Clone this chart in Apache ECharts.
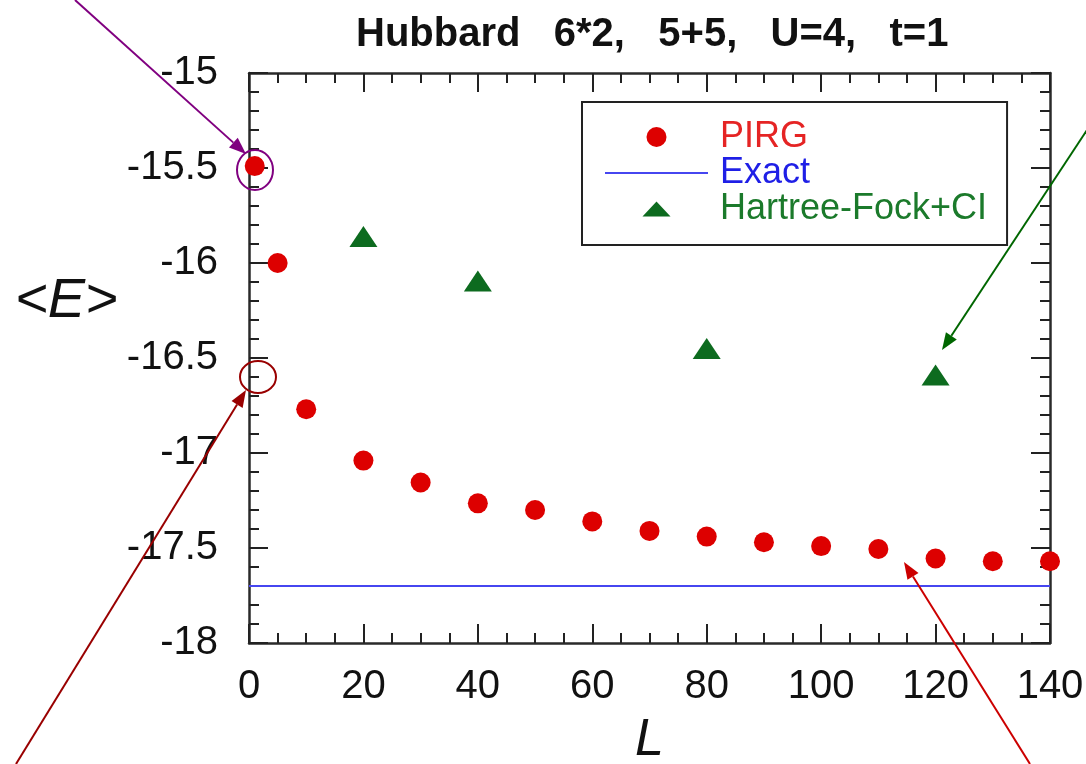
<!DOCTYPE html>
<html>
<head>
<meta charset="utf-8">
<script src="https://cdn.jsdelivr.net/npm/echarts@6/dist/echarts.min.js"></script>
<style>html,body{margin:0;padding:0;background:#fff}#c{width:1086px;height:764px}</style>
</head>
<body>
<div id="c"></div>
<script>
// ---- data ----
const pirgL = [1, 5, 10, 20, 30, 40, 50, 60, 70, 80, 90, 100, 110, 120, 130, 140];
const pirgE = [-15.49, -16.00, -16.77, -17.04, -17.155, -17.265, -17.30, -17.36, -17.41, -17.44, -17.47, -17.49, -17.505, -17.555, -17.57, -17.57];
const hfL = [20, 40, 80, 120];
const hfE = [-15.86, -16.095, -16.45, -16.59];
const exactL = [0, 140];
const exactE = [-17.70, -17.70];
const seriesNames = ['PIRG', 'Exact', 'Hartree-Fock+CI'];
const titleText = 'Hubbard   6*2,   5+5,   U=4,   t=1';
const xName = 'L';
const yName = '<E>';

const FONT = '"Liberation Sans", Arial, Helvetica, sans-serif';
const zip = (a, b) => a.map((v, i) => [v, b[i]]);

const chart = echarts.init(document.getElementById('c'), null, {renderer: 'canvas'});

function arrow(x1, y1, x2, y2, color) {
  const ang = Math.atan2(y2 - y1, x2 - x1);
  const len = 17, w = 6.5;
  const c = Math.cos(ang), s = Math.sin(ang);
  const bx = x2 - len * c, by = y2 - len * s;
  return [
    {type: 'line', z: 100, shape: {x1: x1, y1: y1, x2: bx, y2: by}, style: {stroke: color, lineWidth: 2}},
    {type: 'polygon', z: 100, shape: {points: [[x2, y2], [bx + w * s, by - w * c], [bx - w * s, by + w * c]]}, style: {fill: color}}
  ];
}

const axisLineStyle = {color: '#2a2a2a', width: 2.5};
const commonX = {
  type: 'value', min: 0, max: 140, interval: 20,
  splitLine: {show: false},
  axisLine: {show: true, onZero: false, lineStyle: axisLineStyle},
  axisTick: {show: true, inside: true, length: 19, lineStyle: {color: '#222', width: 2}},
  minorTick: {show: true, splitNumber: 4, length: 10, lineStyle: {color: '#222', width: 2}},
  minorSplitLine: {show: false}
};
const commonY = {
  type: 'value', min: -18, max: -15, interval: 0.5,
  splitLine: {show: false},
  axisLine: {show: true, onZero: false, lineStyle: axisLineStyle},
  axisTick: {show: true, inside: true, length: 19, lineStyle: {color: '#222', width: 2}},
  minorTick: {show: true, splitNumber: 5, length: 10, lineStyle: {color: '#222', width: 2}},
  minorSplitLine: {show: false}
};

const graphics = [].concat(
  arrow(75, 0, 246, 154, '#800080'),
  arrow(16, 764, 246, 390, '#990000'),
  arrow(1030, 764, 904, 562, '#cc0000'),
  arrow(1087, 130, 942, 350, '#006600'),
  [
    {type: 'ellipse', z: 100, shape: {cx: 255, cy: 170, rx: 18, ry: 20}, style: {stroke: '#800080', fill: null, lineWidth: 2}},
    {type: 'ellipse', z: 100, shape: {cx: 258, cy: 377, rx: 18, ry: 16}, style: {stroke: '#990000', fill: null, lineWidth: 2}}
  ]
);

chart.setOption({
  backgroundColor: '#fff',
  animation: false,
  title: [
    {
      text: titleText, left: 351, top: 10,
      textStyle: {fontFamily: FONT, fontSize: 40, fontWeight: 'bold', color: '#111'}
    },
    {
      text: yName, left: 10, top: 268,
      textStyle: {fontFamily: FONT, fontSize: 56, fontStyle: 'italic', fontWeight: 'normal', color: '#111'}
    }
  ],
  grid: {left: 249, right: 36, top: 73, bottom: 121, containLabel: false, outerBoundsMode: 'none'},
  legend: {
    left: 582, top: 102, orient: 'vertical',
    itemWidth: 103, itemHeight: 20, itemGap: 0,
    padding: [17, 20, 18, 23],
    borderColor: '#222', borderWidth: 2, selectedMode: false,
    textStyle: {fontFamily: FONT, fontSize: 36, lineHeight: 35, padding: [0, 0, 0, 7]},
    data: [
      {name: seriesNames[0], icon: 'path://M0,0M103,20M51.5,0A10,10,0,1,1,51.49,0Z', textStyle: {color: '#e52424'}},
      {name: seriesNames[1], icon: 'path://M0,0M103,20M0,9L103,9L103,11L0,11Z', textStyle: {color: '#1f1fe6'}},
      {name: seriesNames[2], icon: 'path://M0,0M103,20M51.5,2.5L65.5,17.5L37.5,17.5Z', textStyle: {color: '#1b7a2b'}}
    ]
  },
  xAxis: [
    Object.assign({}, commonX, {
      position: 'bottom',
      name: xName, nameLocation: 'middle', nameGap: 72,
      nameTextStyle: {fontFamily: FONT, fontSize: 52, fontStyle: 'italic', color: '#111'},
      axisLabel: {margin: 24, fontFamily: FONT, fontSize: 40, color: '#111', showMinLabel: true, showMaxLabel: true}
    }),
    Object.assign({}, commonX, {position: 'top', axisLabel: {show: false}})
  ],
  yAxis: [
    Object.assign({}, commonY, {
      position: 'left',
      axisLabel: {margin: 31, fontFamily: FONT, fontSize: 40, color: '#111', showMinLabel: true, showMaxLabel: true}
    }),
    Object.assign({}, commonY, {position: 'right', axisLabel: {show: false}})
  ],
  series: [
    {
      name: seriesNames[0], type: 'scatter', clip: false,
      symbol: 'circle', symbolSize: 20,
      itemStyle: {color: '#dd0000', opacity: 1},
      data: zip(pirgL, pirgE), z: 5
    },
    {
      name: seriesNames[1], type: 'line', clip: true,
      symbol: 'none', showSymbol: false,
      lineStyle: {color: '#4646f0', width: 2},
      itemStyle: {color: '#4646f0'},
      data: zip(exactL, exactE), z: 3
    },
    {
      name: seriesNames[2], type: 'scatter', clip: false,
      symbol: 'triangle', symbolSize: [28, 21],
      itemStyle: {color: '#0d6b1f', opacity: 1},
      data: zip(hfL, hfE), z: 5
    }
  ],
  graphic: graphics
});
</script>
</body>
</html>
